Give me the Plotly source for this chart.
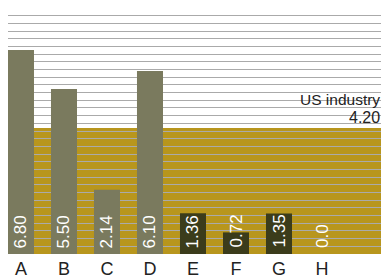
import plotly.graph_objects as go

categories = ["A", "B", "C", "D", "E", "F", "G", "H"]
values = [6.80, 5.50, 2.14, 6.10, 1.36, 0.72, 1.35, 0.0]
value_labels = ["6.80", "5.50", "2.14", "6.10", "1.36", "0.72", "1.35", "0.0"]
groups = ["light", "light", "light", "light", "dark", "dark", "dark", "dark"]
benchmark_label = "US industry"
benchmark_value = 4.20

colors = {"light": "#7a7a5e", "dark": "#3b3c1b"}
bar_colors = [colors[g] for g in groups]
font_family = "Liberation Sans, Arial, Helvetica, sans-serif"

fig = go.Figure()
fig.add_trace(go.Bar(
    x=list(range(len(categories))),
    y=values,
    width=0.605,
    marker=dict(color=bar_colors, line=dict(width=0)),
    hoverinfo="skip",
))

# benchmark band
fig.add_shape(type="rect", xref="paper", yref="y", x0=0, x1=1, y0=0, y1=benchmark_value,
              fillcolor="#b8961d", line=dict(width=0), layer="below")

fig.add_annotation(xref="paper", yref="y", x=1, y=benchmark_value, xanchor="right", yanchor="bottom",
                   text=f"{benchmark_value:.2f}", showarrow=False, xshift=1,
                   font=dict(family=font_family, size=16, color="#222222"), yshift=0)
fig.add_annotation(xref="paper", yref="y", x=1, y=benchmark_value, xanchor="right", yanchor="bottom",
                   text=benchmark_label, showarrow=False, xshift=1,
                   font=dict(family=font_family, size=15.5, color="#222222"), yshift=18)

for i, lab in enumerate(value_labels):
    fig.add_annotation(x=i, y=0, text=lab, textangle=-90, showarrow=False,
                       xanchor="center", yanchor="bottom", yshift=4,
                       font=dict(family=font_family, size=17, color="#ffffff"))

fig.update_layout(
    width=381, height=279,
    margin=dict(l=8, r=0, t=8, b=25),
    paper_bgcolor="#ffffff", plot_bgcolor="#ffffff",
    showlegend=False,
    font=dict(family=font_family),
    xaxis=dict(range=[-0.302, 8.372], tickmode="array", tickvals=list(range(len(categories))),
               ticktext=categories, showgrid=False, zeroline=False, showline=False, ticks="",
               ticklabelstandoff=2,
               tickfont=dict(family=font_family, size=18, color="#222222"), fixedrange=True),
    yaxis=dict(range=[0, 8.2], tick0=0, dtick=0.25625, showgrid=True, gridcolor="#aaaaaa",
               gridwidth=1, zeroline=False, showticklabels=False, ticks="", showline=False,
               fixedrange=True),
)

fig.write_html("out.html", config={"displayModeBar": False},
               post_script="document.body.style.margin='0';document.documentElement.style.overflow='hidden';")
